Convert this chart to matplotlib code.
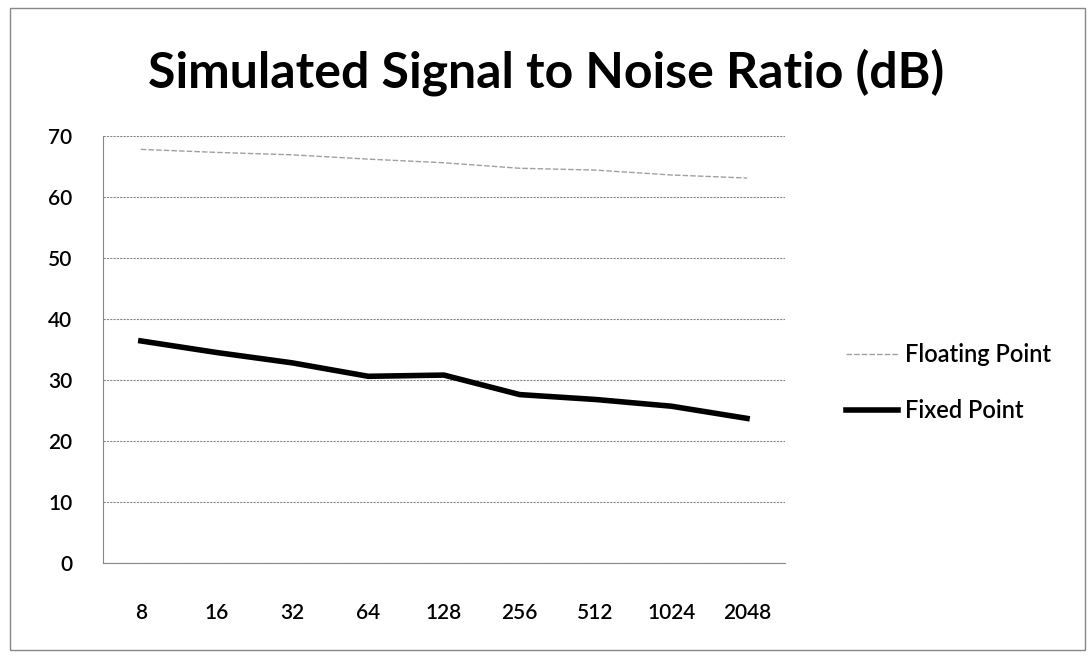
import matplotlib

matplotlib.use("Agg")
import matplotlib.pyplot as plt
from matplotlib.patches import Rectangle

plt.rcParams["font.family"] = ["Lato", "DejaVu Sans"]

fft_sizes = ["8", "16", "32", "64", "128", "256", "512", "1024", "2048"]
floating_point = [67.8, 67.3, 66.9, 66.2, 65.6, 64.7, 64.4, 63.6, 63.1]
fixed_point = [36.4, 34.5, 32.8, 30.6, 30.8, 27.6, 26.8, 25.7, 23.7]

fig = plt.figure(figsize=(10.92, 6.57), dpi=100)
ax = fig.add_axes([0.0943, 0.1431, 0.6245, 0.65])

x = range(len(fft_sizes))
ax.plot(x, floating_point, color="#a0a0a0", linewidth=1.0,
        linestyle=(0, (4, 1.5)), label="Floating Point")
ax.plot(x, fixed_point, color="black", linewidth=4.0,
        solid_joinstyle="round", label="Fixed Point")

ax.set_xlim(-0.5, len(fft_sizes) - 0.5)
ax.set_ylim(0, 70)
ax.set_yticks(range(0, 71, 10))
ax.set_xticks(list(x))
ax.set_xticklabels(fft_sizes)
ax.tick_params(axis="both", labelsize=15, length=0)
ax.tick_params(axis="x", pad=29)
ax.tick_params(axis="y", pad=22)
for lbl in ax.get_xticklabels() + ax.get_yticklabels():
    lbl.set_fontweight("semibold")

ax.grid(axis="y", color="#888888", linewidth=0.8, linestyle=(0, (2, 1)))
ax.set_axisbelow(True)
for side in ("top", "right"):
    ax.spines[side].set_visible(False)
ax.spines["left"].set_color("#888888")
ax.spines["bottom"].set_color("#888888")
ax.spines["left"].set_linestyle((0, (2, 1)))

fig.text(0.5, 0.89, "Simulated Signal to Noise Ratio (dB)", ha="center",
         va="center", fontsize=36, fontweight="bold")

fig.legend(loc="center left", bbox_to_anchor=(0.755, 0.418), frameon=False,
           prop={"size": 17, "weight": "semibold"}, handlelength=2.2,
           handletextpad=0.3, labelspacing=1.4)

fig.patches.append(Rectangle((0.009, 0.01), 0.985, 0.978, transform=fig.transFigure,
                             fill=False, edgecolor="#888888", linewidth=1.0))

fig.savefig("out.png", dpi=100)
